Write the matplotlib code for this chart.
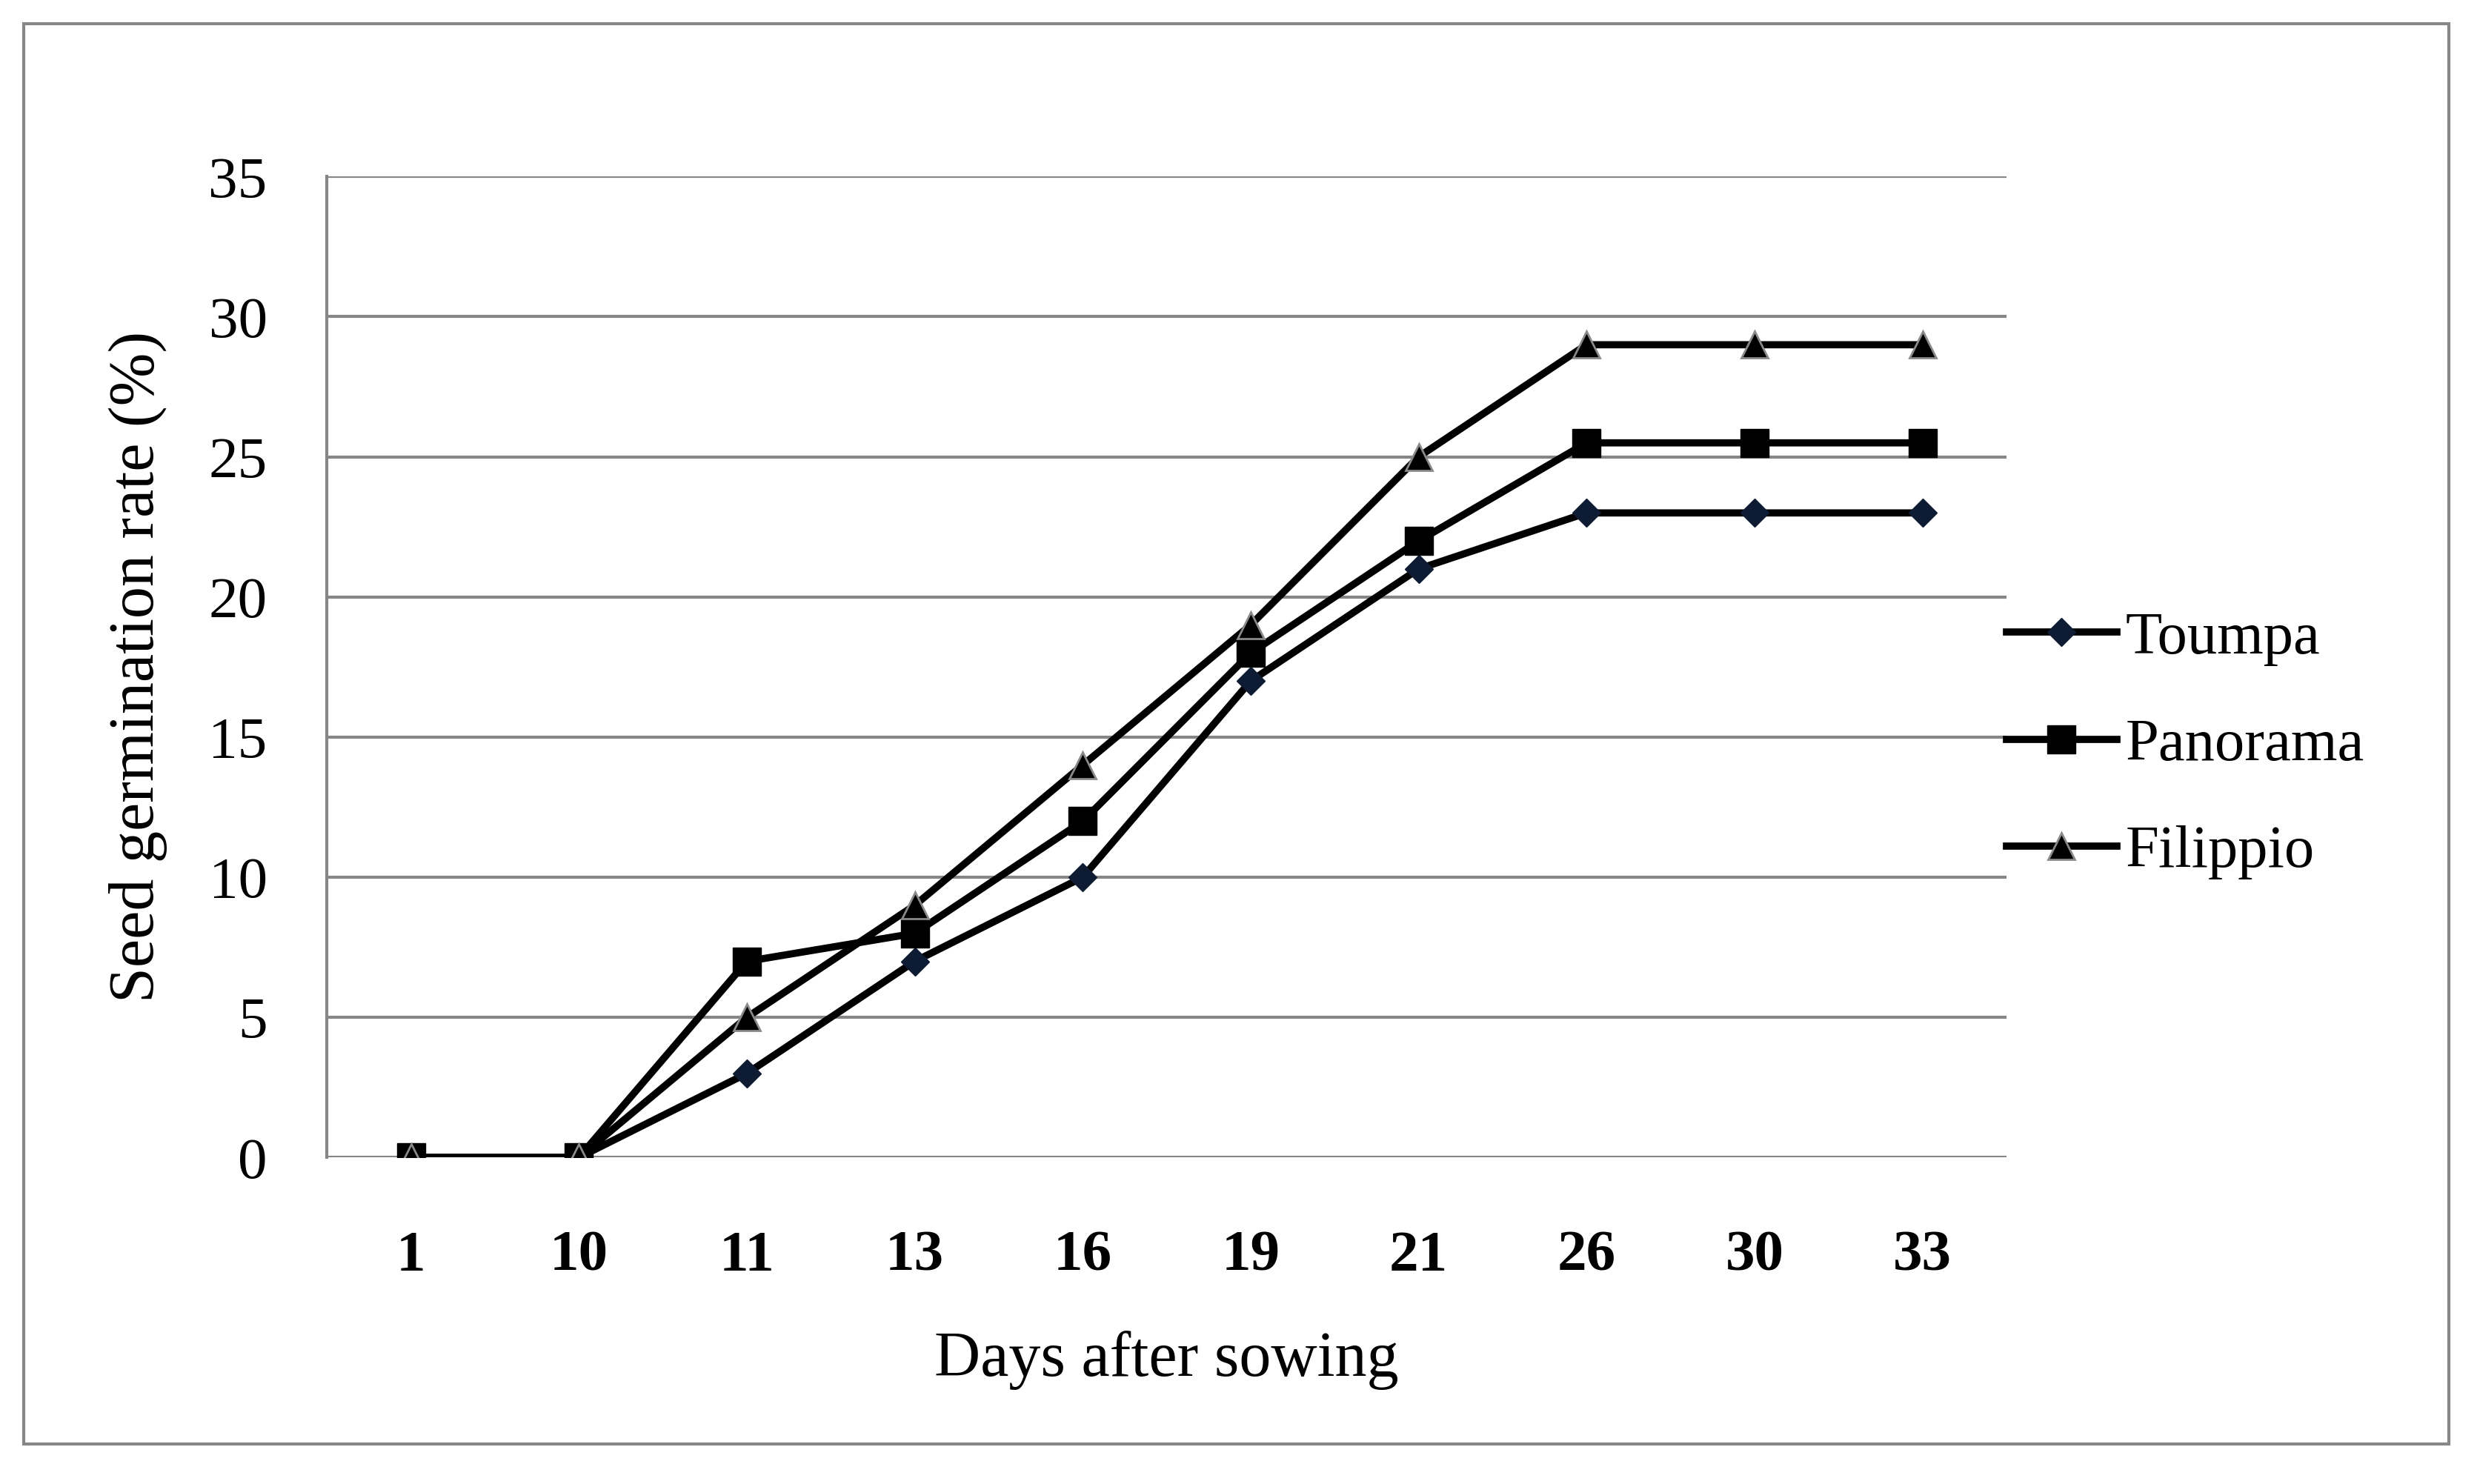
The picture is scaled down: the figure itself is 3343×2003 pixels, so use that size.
import matplotlib.pyplot as plt
from matplotlib.patches import Rectangle

days = ['1', '10', '11', '13', '16', '19', '21', '26', '30', '33']
toumpa = [0, 0, 3, 7, 10, 17, 21, 23, 23, 23]
panorama = [0, 0, 7, 8, 12, 18, 22, 25.5, 25.5, 25.5]
filippio = [0, 0, 5, 9, 14, 19, 25, 29, 29, 29]
yticks = [0, 5, 10, 15, 20, 25, 30, 35]

plt.rcParams['font.family'] = ['Liberation Serif', 'DejaVu Serif']

fig = plt.figure(figsize=(33.43, 20.03), dpi=100)
ax = fig.add_axes([0.132, 0.22, 0.678, 0.661])

# outer chart border
fig.patches.append(Rectangle((0.0096, 0.027), 0.979, 0.957, transform=fig.transFigure,
                             fill=False, edgecolor='#868686', linewidth=3))

x = range(len(days))
ax.plot(x, toumpa, color='black', lw=7, marker='D', ms=19, mfc='#0d1b33', mec='#0d1b33',
        label='Toumpa', zorder=3)
ax.plot(x, panorama, color='black', lw=7, marker='s', ms=28, mfc='black', mec='black',
        label='Panorama', zorder=4)
ax.plot(x, filippio, color='black', lw=7, marker='^', ms=26, mfc='black', mec='#8a8a8a',
        mew=2, label='Filippio', zorder=5)

ax.set_xlim(-0.5, len(days) - 0.5)
ax.set_ylim(0, 35)
ax.set_xticks(list(x))
ax.set_xticklabels(days, fontsize=57, fontweight='bold')
ax.set_yticks(yticks)
ax.set_yticklabels([str(v) for v in yticks], fontsize=57)
ax.tick_params(axis='x', length=0, pad=71)
ax.tick_params(axis='y', length=0, pad=58)

ax.grid(axis='y', color='#868686', lw=3)
ax.set_axisbelow(True)
for s in ['top', 'right', 'bottom']:
    ax.spines[s].set_visible(False)
ax.spines['left'].set_color('#868686')
ax.spines['left'].set_linewidth(3)

ax.set_xlabel('Days after sowing', fontsize=62, labelpad=46)
ax.set_ylabel('Seed germination rate (%)', fontsize=62, labelpad=40)

ax.legend(loc='center left', bbox_to_anchor=(0.968, 0.42), frameon=False, fontsize=58,
          handlelength=1.85, handletextpad=0.15, labelspacing=0.88)

fig.savefig('out.png', dpi=100)
